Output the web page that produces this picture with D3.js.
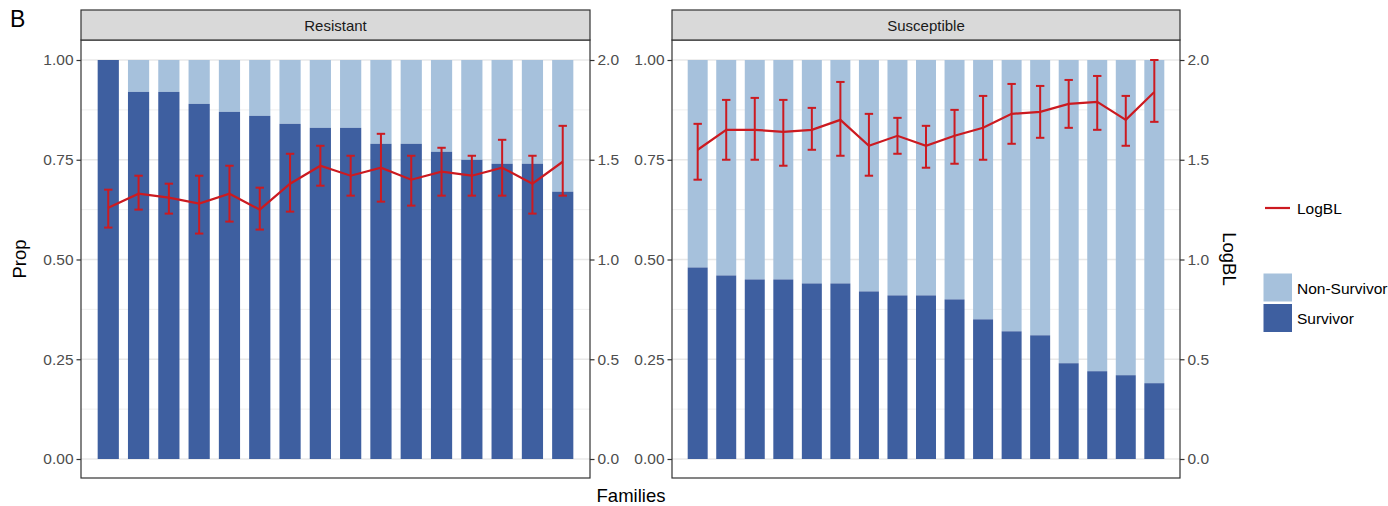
<!DOCTYPE html>
<html>
<head>
<meta charset="utf-8">
<script src="https://cdn.jsdelivr.net/npm/d3@7"></script>
<style>
  body { margin: 0; background: #fff; }
  svg { display: block; font-family: "Liberation Sans", Arial, Helvetica, sans-serif; }
</style>
</head>
<body>
<svg id="chart" width="1388" height="506"></svg>
<script>
// families (x has no tick labels in the figure)
const resistantFamilies = ["R01","R02","R03","R04","R05","R06","R07","R08","R09","R10","R11","R12","R13","R14","R15","R16"];
const susceptibleFamilies = ["S01","S02","S03","S04","S05","S06","S07","S08","S09","S10","S11","S12","S13","S14","S15","S16","S17"];

// proportion of survivors per family
const resistantSurvivor = [1.00,0.92,0.92,0.89,0.87,0.86,0.84,0.83,0.83,0.79,0.79,0.77,0.75,0.74,0.74,0.67];
const susceptibleSurvivor = [0.48,0.46,0.45,0.45,0.44,0.44,0.42,0.41,0.41,0.40,0.35,0.32,0.31,0.24,0.22,0.21,0.19];

// LogBL mean and error bar ends
const resistantLogBL = [1.26,1.33,1.31,1.28,1.33,1.25,1.38,1.47,1.42,1.46,1.40,1.44,1.42,1.46,1.38,1.49];
const resistantLow   = [1.16,1.25,1.23,1.13,1.19,1.15,1.24,1.37,1.32,1.29,1.27,1.32,1.32,1.32,1.23,1.32];
const resistantHigh  = [1.35,1.42,1.38,1.42,1.47,1.36,1.53,1.57,1.52,1.63,1.52,1.56,1.52,1.60,1.52,1.67];

const susceptibleLogBL = [1.55,1.65,1.65,1.64,1.65,1.70,1.57,1.62,1.57,1.62,1.66,1.73,1.74,1.78,1.79,1.70,1.84];
const susceptibleLow   = [1.40,1.50,1.50,1.47,1.55,1.52,1.42,1.53,1.46,1.48,1.50,1.58,1.61,1.66,1.65,1.57,1.69];
const susceptibleHigh  = [1.68,1.80,1.81,1.80,1.76,1.89,1.73,1.71,1.67,1.75,1.82,1.88,1.87,1.90,1.92,1.82,2.00];

const propTicks = [0, 0.25, 0.5, 0.75, 1];
const propMinor = [0.125, 0.375, 0.625, 0.875];
const logTicks = [0, 0.5, 1, 1.5, 2];

const colSurv = "#3e5fa0", colNon = "#a6c1dc", colLine = "#cc1a20";

const svg = d3.select("#chart");
const panelTop = 40, panelBottom = 478, stripTop = 10;

const yProp = d3.scaleLinear().domain([0, 1]).range([459, 60]);
const yLog = d3.scaleLinear().domain([0, 2]).range([459, 60]);

function drawPanel(x0, x1, title, families, surv, logbl, lo, hi) {
  const g = svg.append("g");
  const x = d3.scalePoint().domain(families).range([x0, x1]).padding(0.9);
  const bw = x.step() * 0.7;

  // grid
  g.selectAll(".minor").data(propMinor).join("line")
    .attr("x1", x0).attr("x2", x1)
    .attr("y1", d => yProp(d)).attr("y2", d => yProp(d))
    .attr("stroke", "#ebebeb").attr("stroke-width", 0.8);
  g.selectAll(".major").data(propTicks).join("line")
    .attr("x1", x0).attr("x2", x1)
    .attr("y1", d => yProp(d)).attr("y2", d => yProp(d))
    .attr("stroke", "#e8e8e8").attr("stroke-width", 1.3);

  // stacked bars: non-survivor on top, survivor below
  g.selectAll(".non").data(families).join("rect")
    .attr("x", d => x(d) - bw / 2).attr("width", bw)
    .attr("y", yProp(1)).attr("height", (d, i) => yProp(surv[i]) - yProp(1))
    .attr("fill", colNon);
  g.selectAll(".surv").data(families).join("rect")
    .attr("x", d => x(d) - bw / 2).attr("width", bw)
    .attr("y", (d, i) => yProp(surv[i])).attr("height", (d, i) => yProp(0) - yProp(surv[i]))
    .attr("fill", colSurv);

  // error bars
  const cap = 4.2;
  const eb = g.selectAll(".eb").data(families).join("g")
    .attr("stroke", colLine).attr("stroke-width", 2).attr("fill", "none");
  eb.append("line").attr("x1", d => x(d)).attr("x2", d => x(d))
    .attr("y1", (d, i) => yLog(lo[i])).attr("y2", (d, i) => yLog(hi[i]));
  eb.append("line").attr("x1", d => x(d) - cap).attr("x2", d => x(d) + cap)
    .attr("y1", (d, i) => yLog(lo[i])).attr("y2", (d, i) => yLog(lo[i]));
  eb.append("line").attr("x1", d => x(d) - cap).attr("x2", d => x(d) + cap)
    .attr("y1", (d, i) => yLog(hi[i])).attr("y2", (d, i) => yLog(hi[i]));

  // mean line
  g.append("path")
    .datum(families)
    .attr("d", d3.line().x(d => x(d)).y((d, i) => yLog(logbl[i])))
    .attr("fill", "none").attr("stroke", colLine).attr("stroke-width", 2.2);

  // axes
  const ax = g.append("g").attr("transform", `translate(${x0},0)`)
    .call(d3.axisLeft(yProp).tickValues(propTicks).tickFormat(d3.format(".2f")).tickSize(4.5).tickPadding(3));
  const ax2 = g.append("g").attr("transform", `translate(${x1},0)`)
    .call(d3.axisRight(yLog).tickValues(logTicks).tickFormat(d3.format(".1f")).tickSize(4.5).tickPadding(3));
  [ax, ax2].forEach(a => {
    a.select(".domain").remove();
    a.selectAll(".tick line").attr("stroke", "#333").attr("stroke-width", 1.2);
    a.selectAll(".tick text").attr("fill", "#4d4d4d").style("font-size", "15.5px").attr("font-family", null);
  });

  // panel border and strip
  g.append("rect").attr("x", x0).attr("y", panelTop).attr("width", x1 - x0).attr("height", panelBottom - panelTop)
    .attr("fill", "none").attr("stroke", "#333").attr("stroke-width", 1.2);
  g.append("rect").attr("x", x0).attr("y", stripTop).attr("width", x1 - x0).attr("height", panelTop - stripTop)
    .attr("fill", "#d9d9d9").attr("stroke", "#333").attr("stroke-width", 1.2);
  g.append("text").attr("x", (x0 + x1) / 2).attr("y", (stripTop + panelTop) / 2)
    .attr("text-anchor", "middle").attr("dominant-baseline", "central")
    .attr("fill", "#1a1a1a").style("font-size", "15px").text(title);
}

drawPanel(81, 590, "Resistant", resistantFamilies, resistantSurvivor, resistantLogBL, resistantLow, resistantHigh);
drawPanel(672, 1180, "Susceptible", susceptibleFamilies, susceptibleSurvivor, susceptibleLogBL, susceptibleLow, susceptibleHigh);

// titles
svg.append("text").attr("x", 10).attr("y", 27).style("font-size", "23px").text("B");
svg.append("text").attr("transform", "translate(26,259) rotate(-90)")
  .attr("text-anchor", "middle").style("font-size", "18.5px").text("Prop");
svg.append("text").attr("transform", "translate(1223,259) rotate(90)")
  .attr("text-anchor", "middle").style("font-size", "18.5px").text("LogBL");
svg.append("text").attr("x", 631).attr("y", 502)
  .attr("text-anchor", "middle").style("font-size", "18.5px").text("Families");

// legend
const leg = svg.append("g");
leg.append("line").attr("x1", 1265).attr("x2", 1290).attr("y1", 208).attr("y2", 208)
  .attr("stroke", colLine).attr("stroke-width", 2.2);
leg.append("text").attr("x", 1297).attr("y", 208).attr("dominant-baseline", "central")
  .style("font-size", "15.5px").text("LogBL");
const legItems = ["Non-Survivor", "Survivor"];
const legColors = [colNon, colSurv];
leg.selectAll(".key").data(legItems).join("rect")
  .attr("x", 1263.5).attr("y", (d, i) => 273.5 + i * 30.5)
  .attr("width", 28.5).attr("height", 28)
  .attr("fill", (d, i) => legColors[i]);
leg.selectAll(".lab").data(legItems).join("text")
  .attr("x", 1297).attr("y", (d, i) => 288 + i * 30.5)
  .attr("dominant-baseline", "central").style("font-size", "15.5px").text(d => d);
</script>
</body>
</html>
